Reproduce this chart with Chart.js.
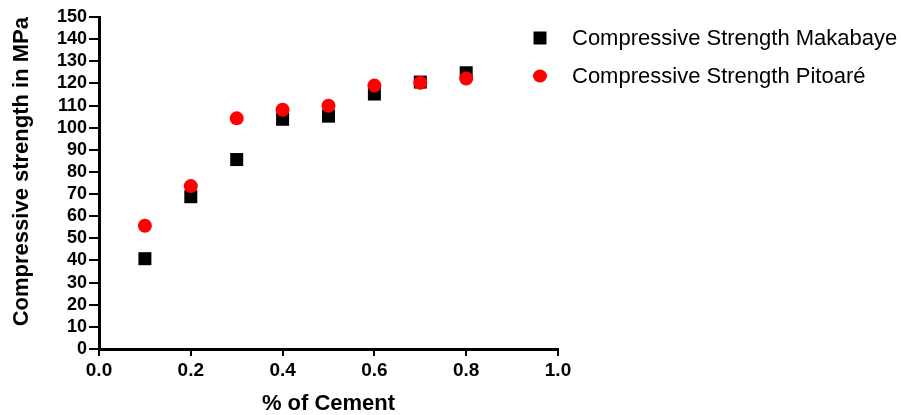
<!DOCTYPE html>
<html lang="en">

<head>
    <meta charset="UTF-8">
    <title>Compressive Strength</title>
    <style>
        html, body { margin: 0; padding: 0; background: #fff; }
        #box { width: 901px; height: 415px; }
    </style>
</head>

<body>
    <div id="box"><canvas id="strengthChart" width="901" height="415"></canvas></div>
</body>

<script src="https://cdn.jsdelivr.net/npm/chart.js"></script>
<script>
    // % of cement
    const cementPct = [0.1, 0.2, 0.3, 0.4, 0.5, 0.6, 0.7, 0.8];
    // compressive strength in MPa
    const makabaye = [40.8, 68.8, 85.6, 103.8, 105.2, 115.2, 120.6, 124.8];
    const pitoare = [55.7, 73.6, 104.2, 108.1, 109.9, 119.0, 120.3, 122.2];
    const seriesNames = ['Compressive Strength Makabaye', 'Compressive Strength Pitoaré'];

    const FONT = '"Liberation Sans", Arial, sans-serif';

    const toPoints = ys => cementPct.map((x, i) => ({ x: x, y: ys[i] }));

    // legend drawn by hand, to the right of the plot
    const sideLegend = {
        id: 'sideLegend',
        afterDraw(chart) {
            const ctx = chart.ctx;
            const rows = [38, 76];
            ctx.save();
            chart.data.datasets.forEach((ds, i) => {
                const y = rows[i];
                ctx.fillStyle = ds.backgroundColor;
                if (ds.pointStyle === 'rect') {
                    ctx.fillRect(540 - 6.5, y - 6.5, 13, 13);
                } else {
                    ctx.beginPath();
                    ctx.ellipse(540, y, 7, 6.5, 0, 0, Math.PI * 2);
                    ctx.fill();
                }
                ctx.fillStyle = '#000';
                ctx.font = '22px ' + FONT;
                ctx.textBaseline = 'middle';
                ctx.fillText(ds.label, 572, y + 1);
            });
            ctx.restore();
        }
    };

    const ctx = document.getElementById('strengthChart').getContext('2d');
    const strengthChart = new Chart(ctx, {
        type: 'scatter',
        data: {
            datasets: [{
                label: seriesNames[0],
                data: toPoints(makabaye),
                pointStyle: 'rect',
                pointRadius: 9.2,
                pointHoverRadius: 9.2,
                backgroundColor: '#000',
                borderWidth: 0,
                order: 2
            }, {
                label: seriesNames[1],
                data: toPoints(pitoare),
                pointStyle: 'circle',
                pointRadius: 7,
                pointHoverRadius: 7,
                backgroundColor: '#ff0000',
                borderWidth: 0,
                order: 1
            }]
        },
        options: {
            responsive: false,
            animation: false,
            layout: { padding: { top: 17, right: 343, left: 0, bottom: 0 } },
            plugins: {
                legend: { display: false },
                tooltip: { enabled: false }
            },
            scales: {
                x: {
                    type: 'linear',
                    min: 0,
                    max: 1,
                    afterFit: s => { s.height = 66; },
                    ticks: {
                        stepSize: 0.2,
                        autoSkip: false,
                        color: '#000',
                        padding: 3,
                        font: { family: FONT, size: 19, weight: 'bold' },
                        callback: v => v.toFixed(1)
                    },
                    grid: { drawOnChartArea: false, color: '#000', lineWidth: 2, tickLength: 7 },
                    border: { color: '#000', width: 3 },
                    title: {
                        display: true,
                        text: '% of Cement',
                        color: '#000',
                        padding: 0,
                        font: { family: FONT, size: 22, weight: 'bold', lineHeight: 1 }
                    }
                },
                y: {
                    min: 0,
                    max: 150,
                    afterFit: s => { s.width = 99; },
                    ticks: {
                        stepSize: 10,
                        autoSkip: false,
                        color: '#000',
                        padding: 2,
                        font: { family: FONT, size: 18, weight: 'bold', lineHeight: 1 }
                    },
                    grid: { drawOnChartArea: false, color: '#000', lineWidth: 2, tickLength: 10 },
                    border: { color: '#000', width: 3 },
                    title: {
                        display: true,
                        text: 'Compressive strength in MPa',
                        color: '#000',
                        align: 'end',
                        padding: { top: 9, bottom: 0 },
                        font: { family: FONT, size: 22, weight: 'bold', lineHeight: 1.2 }
                    }
                }
            }
        },
        plugins: [sideLegend]
    });
</script>

</html>
